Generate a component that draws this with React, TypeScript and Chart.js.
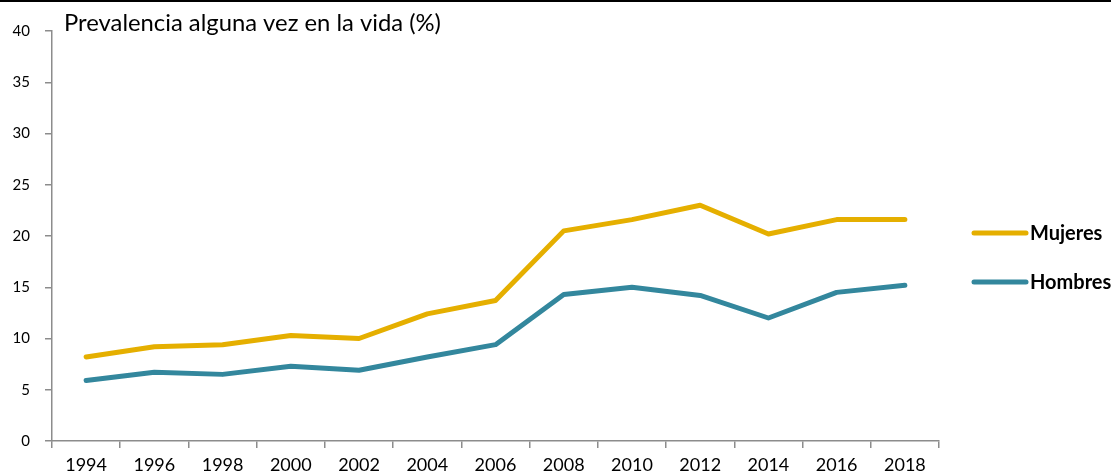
import React, { useEffect, useRef } from "react";
import { Chart, registerables } from "chart.js";

Chart.register(...registerables);

const years = ["1994", "1996", "1998", "2000", "2002", "2004", "2006", "2008", "2010", "2012", "2014", "2016", "2018"];
const mujeres = [8.2, 9.2, 9.4, 10.3, 10.0, 12.4, 13.7, 20.5, 21.6, 23.0, 20.2, 21.6, 21.6];
const hombres = [5.9, 6.7, 6.5, 7.3, 6.9, 8.2, 9.4, 14.3, 15.0, 14.2, 12.0, 14.5, 15.2];
const yTicks = [0, 5, 10, 15, 20, 25, 30, 35, 40];
const titleText = "Prevalencia alguna vez en la vida (%)";

const GOLD = "#E5AF00";
const TEAL = "#33879D";
const AXIS = "#8C8C8C";
const FONT = "Lato";

const decorPlugin = {
  id: "decor",
  afterDraw(chart: any) {
    const ctx = chart.ctx;
    ctx.save();
    // top rule
    ctx.fillStyle = "#000";
    ctx.fillRect(0, 0, chart.width, 2);
    // title
    ctx.fillStyle = "#000";
    ctx.font = `23.8px ${FONT}`;
    ctx.textAlign = "left";
    ctx.textBaseline = "alphabetic";
    ctx.fillText(titleText, 64, 31);
    // legend
    const items = chart.data.datasets;
    const ys = [233, 282];
    items.forEach((ds: any, i: number) => {
      const y = ys[i];
      ctx.strokeStyle = ds.borderColor;
      ctx.lineWidth = 5;
      ctx.lineCap = "round";
      ctx.beginPath();
      ctx.moveTo(974, y);
      ctx.lineTo(1026, y);
      ctx.stroke();
      ctx.fillStyle = "#000";
      ctx.font = `bold 20px ${FONT}`;
      ctx.textBaseline = "middle";
      ctx.fillText(ds.label, 1030, y + 1);
    });
    ctx.restore();
  },
};

export default function App() {
  const ref = useRef<HTMLCanvasElement | null>(null);
  useEffect(() => {
    document.body.style.margin = "0";
    const canvas = ref.current!;
    const chart = new Chart(canvas, {
      type: "line",
      data: {
        labels: years,
        datasets: [
          {
            label: "Mujeres",
            data: mujeres,
            borderColor: GOLD,
            backgroundColor: GOLD,
            borderWidth: 5,
            pointRadius: 0,
            tension: 0,
            borderCapStyle: "round",
            borderJoinStyle: "round",
          },
          {
            label: "Hombres",
            data: hombres,
            borderColor: TEAL,
            backgroundColor: TEAL,
            borderWidth: 5,
            pointRadius: 0,
            tension: 0,
            borderCapStyle: "round",
            borderJoinStyle: "round",
          },
        ],
      },
      options: {
        responsive: false,
        animation: false,
        layout: { padding: { top: 31, right: 172, left: 0, bottom: 0 } },
        plugins: {
          legend: { display: false },
          tooltip: { enabled: false },
          title: { display: false },
        },
        scales: {
          x: {
            type: "category",
            offset: true,
            grid: {
              offset: true,
              drawOnChartArea: false,
              drawTicks: true,
              tickLength: 7,
              color: AXIS,
              lineWidth: 1.5,
            },
            border: { display: true, color: AXIS, width: 1.5 },
            ticks: {
              color: "#000",
              font: { family: FONT, size: 18 },
              padding: 6,
              maxRotation: 0,
              autoSkip: false,
            },
            afterFit(scale: any) {
              scale.height = 34;
            },
          },
          y: {
            min: 0,
            max: 40,
            afterBuildTicks(scale: any) {
              scale.ticks = yTicks.map((v) => ({ value: v }));
            },
            grid: {
              drawOnChartArea: false,
              drawTicks: true,
              tickLength: 7,
              color: AXIS,
              lineWidth: 1.5,
            },
            border: { display: true, color: AXIS, width: 1.5 },
            ticks: {
              color: "#000",
              font: { family: FONT, size: 15 },
              padding: 15,
            },
            afterFit(scale: any) {
              scale.width = 52;
            },
          },
        },
      },
      plugins: [decorPlugin],
    });
    return () => chart.destroy();
  }, []);
  return <canvas ref={ref} width={1111} height={475} style={{ display: "block" }} />;
}
